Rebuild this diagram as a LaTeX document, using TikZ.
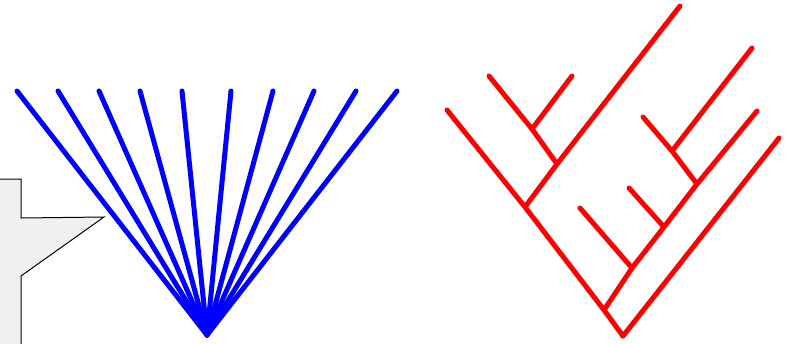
\documentclass[tikz,border=0pt]{standalone}
\usepackage{xcolor}
\usepackage{tikz}
\usetikzlibrary{calc}

\definecolor{calloutgray}{RGB}{240,240,240}

\begin{document}
\begin{tikzpicture}[x=1pt, y=-1pt,
  star/.style={draw=blue, line width=5pt, line cap=round},
  tree/.style={draw=red, line width=5pt, line cap=round}]
\useasboundingbox (0,0) rectangle (794,343);
\clip (0,0) rectangle (794,343);

% Left: callout box
\fill[calloutgray] (-5,179) -- (21,179) -- (21,218) -- (104,217) -- (21,276) -- (21,350) -- (-5,350) -- cycle;
\draw[black, line width=1pt, line join=miter] (-5,179) -- (21,179) -- (21,218) -- (104,217) -- (21,276) -- (21,350);

% Middle: star tree
\coordinate (s0) at (207,335);
\foreach \i/\x in {1/17,2/58,3/99,4/140,5/182,6/231,7/273,8/314,9/356,10/397} {
  \coordinate (s\i) at (\x,91);
  \draw[star] (s0) -- (s\i);
}

% Right: binary tree
\coordinate (root) at (623,336);
\coordinate (a) at (604,310);
\coordinate (b) at (525,207);
\coordinate (g) at (557,164);
\coordinate (h) at (532,129);
\coordinate (c) at (632,268);
\coordinate (d) at (664,227);
\coordinate (e) at (697,184);
\coordinate (f) at (672,151);
\coordinate (t1) at (447,110);
\coordinate (t2) at (489,76);
\coordinate (t3) at (572,76);
\coordinate (t4) at (680,6);
\coordinate (t5) at (580,208);
\coordinate (t6) at (629,188);
\coordinate (t7) at (643,117);
\coordinate (t8) at (752,48);
\coordinate (t9) at (757,111);
\coordinate (t10) at (779,138);

\draw[tree] (root) -- (t10);
\draw[tree] (root) -- (a) -- (b) -- (t1);
\draw[tree] (b) -- (g) -- (t4);
\draw[tree] (g) -- (h) -- (t2);
\draw[tree] (h) -- (t3);
\draw[tree] (a) -- (c) -- (d) -- (e) -- (t9);
\draw[tree] (c) -- (t5);
\draw[tree] (d) -- (t6);
\draw[tree] (e) -- (f) -- (t7);
\draw[tree] (f) -- (t8);
\end{tikzpicture}
\end{document}
